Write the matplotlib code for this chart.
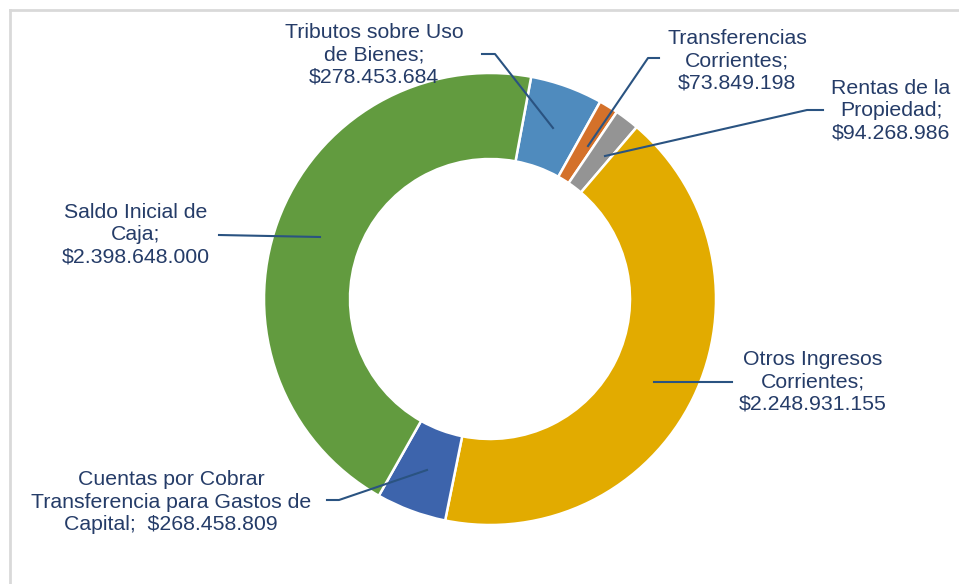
import matplotlib
matplotlib.use("Agg")
import matplotlib.pyplot as plt
from matplotlib.lines import Line2D

# ---- data ----
categories = [
    "Tributos sobre Uso\nde Bienes",
    "Transferencias\nCorrientes",
    "Rentas de la\nPropiedad",
    "Otros Ingresos\nCorrientes",
    "Cuentas por Cobrar\nTransferencia para Gastos de\nCapital",
    "Saldo Inicial de\nCaja",
]
values = [278453684, 73849198, 94268986, 2248931155, 268458809, 2398648000]
separators = [";\n", ";\n", ";\n", ";\n", ";  ", ";\n"]
colors = ["#4F8BBE", "#D4712A", "#949494", "#E2AB00", "#3D64AC", "#629B3F"]

# ---- layout (pixel coordinates, y from top) ----
W, H = 959, 584
cx, cy, R, ring = 490, 299, 226, 86
label_pos = [(374, 55), (737, 61), (891, 111), (813, 382), (171, 502), (136, 235)]
leaders = [
    [(482, 54), (495, 54), (553, 128)],
    [(659, 58), (648, 58), (588, 146)],
    [(823, 110), (807, 110), (605, 156)],
    [(732, 382), (654, 382)],
    [(327, 500), (339, 500), (427, 470)],
    [(219, 235), (320, 237)],
]

fig = plt.figure(figsize=(W / 100, H / 100), dpi=100)
ax = fig.add_axes([0, 0, 1, 1])
ax.set_xlim(0, W)
ax.set_ylim(0, H)
ax.set_aspect("equal")
ax.axis("off")

# chart frame (top and left edges visible)
ax.add_line(Line2D([10, 10], [-5, H - 10], color="#D9D9D9", lw=2))
ax.add_line(Line2D([10, W + 5], [H - 10, H - 10], color="#D9D9D9", lw=2))

ax.pie(values, colors=colors, startangle=79.5, counterclock=False,
       radius=R, center=(cx, H - cy),
       wedgeprops=dict(width=ring, edgecolor="white", linewidth=1.8))
ax.set_xlim(0, W)
ax.set_ylim(0, H)

txt_color = "#253C68"
line_color = "#2A5381"
for cat, v, sep, (lx, ly), pts in zip(categories, values, separators, label_pos, leaders):
    label = cat + sep + "$" + f"{v:,}".replace(",", ".")
    ax.text(lx, H - ly, label, ha="center", va="center", multialignment="center",
            fontsize=15.3, color=txt_color, family="Liberation Sans", linespacing=1.22)
    xs = [p[0] for p in pts]
    ys = [H - p[1] for p in pts]
    ax.add_line(Line2D(xs, ys, color=line_color, lw=1.5))

fig.savefig("out.png", dpi=100, facecolor="white")
